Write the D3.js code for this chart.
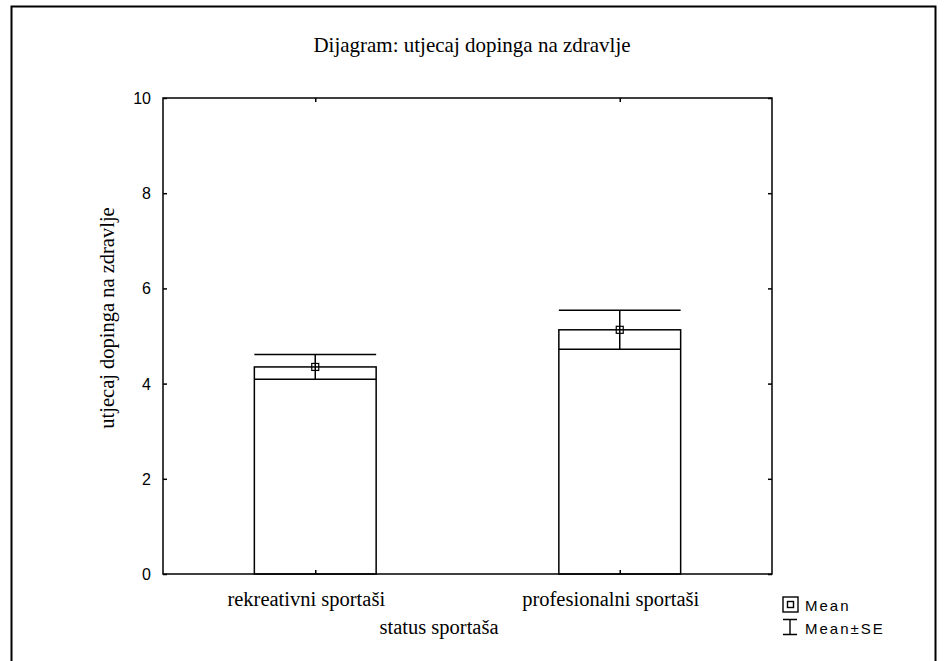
<!DOCTYPE html>
<html>
<head>
<meta charset="utf-8">
<script src="https://cdn.jsdelivr.net/npm/d3@7"></script>
<style>
  body { margin: 0; background: #fff; }
  svg text { fill: #000; }
</style>
</head>
<body>
<svg id="chart" width="947" height="661"></svg>
<script>
"use strict";

// data
var categories = ["rekreativni sportaši", "profesionalni sportaši"];
var means = [4.35, 5.13];
var stdErrs = [0.26, 0.41];
var yTicks = [0, 2, 4, 6, 8, 10];

var svg = d3.select("#chart");

var plotLeft = 163, plotRight = 772, plotTop = 98, plotBottom = 574;

var x = d3.scalePoint().domain(categories).range([plotLeft, plotRight]).padding(0.5);
var y = d3.scaleLinear().domain([0, 10]).range([plotBottom, plotTop]);
var barW = (plotRight - plotLeft) * 0.2;

var serif = "'Liberation Serif', 'Times New Roman', serif";
var sans = "'Liberation Sans', Arial, sans-serif";

    // outer frame
svg.append("path")
    .attr("d", "M11.5,661 V6.5 H935.5 V661")
    .attr("fill", "none")
    .attr("stroke", "#000")
    .attr("stroke-width", 2);

    // title
svg.append("text")
    .attr("x", 472).attr("y", 52)
    .attr("text-anchor", "middle")
    .style("font-family", serif)
    .style("font-size", "21px")
    .text("Dijagram: utjecaj dopinga na zdravlje");

    // bars
var g = svg.append("g");

categories.forEach(function (c, i) {
    var cx = x(c);
    g.append("rect")
        .attr("x", cx - barW / 2).attr("y", y(means[i]))
        .attr("width", barW).attr("height", y(0) - y(means[i]))
        .attr("fill", "#fff").attr("stroke", "#000").attr("stroke-width", 1.5);
    // lower SE line across bar
    g.append("line")
        .attr("x1", cx - barW / 2).attr("x2", cx + barW / 2)
        .attr("y1", y(means[i] - stdErrs[i])).attr("y2", y(means[i] - stdErrs[i]))
        .attr("stroke", "#000").attr("stroke-width", 1.5);
    // upper cap
    g.append("line")
        .attr("x1", cx - barW / 2).attr("x2", cx + barW / 2)
        .attr("y1", y(means[i] + stdErrs[i])).attr("y2", y(means[i] + stdErrs[i]))
        .attr("stroke", "#000").attr("stroke-width", 1.5);
    // whisker
    g.append("line")
        .attr("x1", cx).attr("x2", cx)
        .attr("y1", y(means[i] + stdErrs[i])).attr("y2", y(means[i] - stdErrs[i]))
        .attr("stroke", "#000").attr("stroke-width", 1.5);
    // mean marker
    g.append("rect")
        .attr("x", cx - 3.5).attr("y", y(means[i]) - 3.5)
        .attr("width", 7).attr("height", 7)
        .attr("fill", "none").attr("stroke", "#000").attr("stroke-width", 1.2);
});

    // plot frame
svg.append("rect")
    .attr("x", plotLeft).attr("y", plotTop)
    .attr("width", plotRight - plotLeft).attr("height", plotBottom - plotTop)
    .attr("fill", "none").attr("stroke", "#000").attr("stroke-width", 1.5);

    // y axis (ticks inside)
svg.append("g")
    .attr("transform", "translate(" + plotLeft + ",0)")
    .call(d3.axisRight(y).tickValues(yTicks).tickSize(4).tickFormat(""))
    .select(".domain").remove();

svg.append("g")
    .attr("transform", "translate(" + plotRight + ",0)")
    .call(d3.axisLeft(y).tickValues(yTicks).tickSize(4).tickFormat(""))
    .select(".domain").remove();

svg.selectAll(".ylab")
    .data(yTicks)
    .enter().append("text")
    .attr("class", "ylab")
    .attr("x", 151).attr("y", function (d) { return y(d) + 6; })
    .attr("text-anchor", "end")
    .style("font-family", sans)
    .style("font-size", "16px")
    .text(function (d) { return d; });

    // x axis ticks (inside, top and bottom)
svg.append("g")
    .attr("transform", "translate(0," + plotBottom + ")")
    .call(d3.axisTop(x).tickSize(4).tickFormat(""))
    .select(".domain").remove();

svg.append("g")
    .attr("transform", "translate(0," + plotTop + ")")
    .call(d3.axisBottom(x).tickSize(4).tickFormat(""))
    .select(".domain").remove();

svg.selectAll(".tick line").attr("stroke-width", 1.5);

svg.selectAll(".xlab")
    .data(categories)
    .enter().append("text")
    .attr("class", "xlab")
    .attr("x", function (d) { return x(d) - 9; }).attr("y", 606)
    .attr("text-anchor", "middle")
    .style("font-family", serif)
    .style("font-size", "20.5px")
    .text(function (d) { return d; });

    // axis titles
svg.append("text")
    .attr("x", 439).attr("y", 634)
    .attr("text-anchor", "middle")
    .style("font-family", serif)
    .style("font-size", "20.5px")
    .text("status sportaša");

svg.append("text")
    .attr("transform", "translate(114,318) rotate(-90)")
    .attr("text-anchor", "middle")
    .style("font-family", serif)
    .style("font-size", "20.5px")
    .text("utjecaj dopinga na zdravlje");

    // legend
var lg = svg.append("g");

lg.append("rect")
    .attr("x", 783).attr("y", 597).attr("width", 15).attr("height", 15)
    .attr("fill", "none").attr("stroke", "#000").attr("stroke-width", 1.4);
lg.append("rect")
    .attr("x", 787.5).attr("y", 601.5).attr("width", 6).attr("height", 6)
    .attr("fill", "none").attr("stroke", "#000").attr("stroke-width", 1.4);

lg.append("path")
    .attr("d", "M783,619.5 H797 M790,619.5 V634.5 M783,634.5 H797")
    .attr("fill", "none").attr("stroke", "#000").attr("stroke-width", 1.4);

lg.selectAll("text")
    .data(["Mean", "Mean±SE"])
    .enter().append("text")
    .attr("x", 805).attr("y", function (d, i) { return 611 + i * 23; })
    .style("font-family", sans)
    .style("font-size", "15px")
    .style("letter-spacing", "2px")
    .text(function (d) { return d; });
</script>
</body>
</html>
